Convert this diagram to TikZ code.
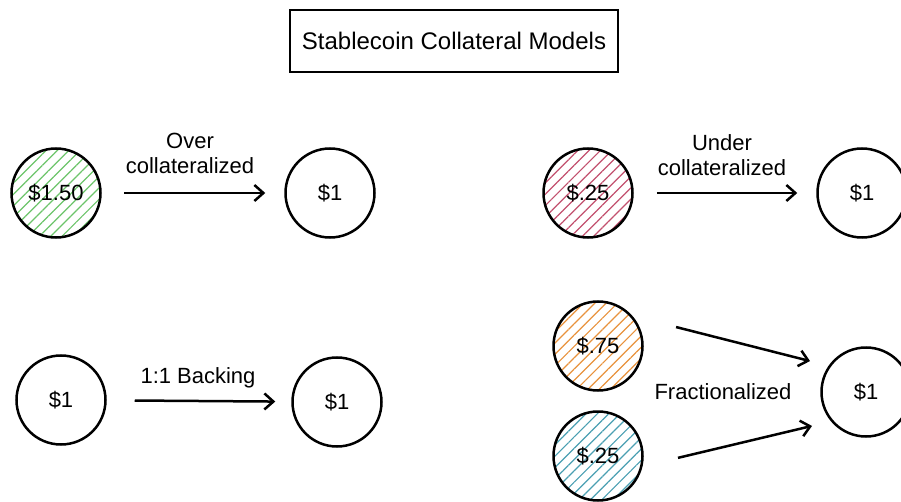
\documentclass[tikz,border=0pt]{standalone}
\usepackage{fontspec}
\setmainfont{Liberation Sans}
\usetikzlibrary{arrows.meta,patterns.meta}
\definecolor{hgreen}{HTML}{6CC46A}
\definecolor{hred}{HTML}{C2506E}
\definecolor{horange}{HTML}{E8923C}
\definecolor{hblue}{HTML}{4A9FB2}
\tikzset{
  coin/.style={circle, draw=black, line width=2.5pt, minimum size=89pt, inner sep=0pt, font=\fontsize{22}{24}\selectfont},
  hatch/.style={pattern={Lines[angle=45,distance=8pt,line width=1.2pt]}, pattern color=#1},
  flow/.style={line width=2.5pt, -{Straight Barb[length=9pt,width=16pt,line width=2.5pt]}},
  lbl/.style={font=\fontsize{22}{25}\selectfont, align=center},
  titlebox/.style={draw=black, line width=2.3pt, minimum width=328pt, minimum height=62pt, font=\fontsize{24}{26}\selectfont}
}
\begin{document}
\begin{tikzpicture}[x=1pt,y=-1pt]
\useasboundingbox (0,0) rectangle (901,502);
\node[titlebox] (title) at (454,41) {Stablecoin Collateral Models};
% row 1 left
\node[coin, hatch=hgreen] (c150) at (56,193) {\$1.50};
\node[coin] (o1) at (330,193) {\$1};
\draw[flow, shorten <=23pt, shorten >=19pt] (c150) -- (o1);
\node[lbl] (lover) at (190,153) {Over\\collateralized};
% row 1 right
\node[coin, hatch=hred] (c25) at (588,193) {\$.25};
\node[coin] (u1) at (862,193) {\$1};
\draw[flow, shorten <=23pt, shorten >=19pt] (c25) -- (u1);
\node[lbl] (lunder) at (722,155) {Under\\collateralized};
% row 2 left
\node[coin] (b1) at (61,400) {\$1};
\node[coin] (b2) at (337,402) {\$1};
\draw[flow, shorten <=28pt, shorten >=16pt] (b1) -- (b2);
\node[lbl] (lback) at (198,378) {1:1 Backing};
% row 2 right
\node[coin, hatch=horange] (c75) at (598,346) {\$.75};
\node[coin, hatch=hblue] (c25b) at (598,456) {\$.25};
\node[coin] (f1) at (866,392) {\$1};
\draw[flow, shorten <=44.9pt, shorten >=19.1pt] (c75.41) -- (f1.145);
\draw[flow, shorten <=36.4pt, shorten >=19.5pt] (c25b.-13) -- (f1.220);
\node[lbl] (lfrac) at (723,392) {Fractionalized};
\end{tikzpicture}
\end{document}
